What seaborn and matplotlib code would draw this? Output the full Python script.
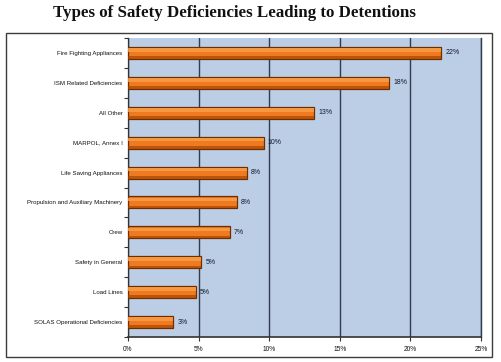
import matplotlib
matplotlib.use("Agg")
import matplotlib.pyplot as plt
import seaborn as sns
import pandas as pd
import numpy as np
from matplotlib.patches import Rectangle
from matplotlib.ticker import FixedLocator

categories = ["Fire Fighting Appliances", "ISM Related Deficiencies", "All Other",
              "MARPOL, Annex I", "Life Saving Appliances",
              "Propulsion and Auxiliary Machinery", "Crew", "Safety in General",
              "Load Lines", "SOLAS Operational Deficiencies"]
values = [22.2, 18.5, 13.2, 9.6, 8.4, 7.7, 7.2, 5.2, 4.8, 3.2]
value_labels = ["22%", "18%", "13%", "10%", "8%", "8%", "7%", "5%", "5%", "3%"]
x_ticks = [0, 5, 10, 15, 20, 25]
x_tick_labels = ["0%", "5%", "10%", "15%", "20%", "25%"]
title = "Types of Safety Deficiencies Leading to Detentions"

df = pd.DataFrame({"category": categories, "value": values})

sns.set_theme(style="white")
plt.rcParams["font.family"] = ["Liberation Sans", "DejaVu Sans"]

fig = plt.figure(figsize=(5.01, 3.62), dpi=100)
fig.patch.set_facecolor("white")

# outer chart frame
frame = Rectangle((6 / 501, 1 - 357 / 362), 486 / 501, 324 / 362,
                  transform=fig.transFigure, facecolor="white",
                  edgecolor="#3c3c3c", linewidth=1.0, zorder=-5)
fig.patches.append(frame)

fig.text(234 / 501, 1 - 13 / 362, title, ha="center", va="center",
         fontsize=12.2, fontweight="bold", family=["Liberation Serif"],
         color="#111111")

ax = fig.add_axes([128 / 501, 1 - 337 / 362, 353 / 501, 299 / 362])
ax.set_zorder(2)
ax.set_facecolor("#bccde6")

sns.barplot(data=df, x="value", y="category", ax=ax, color="#ef7a1f",
            edgecolor="#6e2e00", linewidth=0.9, width=0.4, saturation=1,
            orient="h", zorder=3)

# highlight / shadow on bars to mimic 3D look
for p in list(ax.patches):
    x0, y0 = p.get_x(), p.get_y()
    w, h = p.get_width(), p.get_height()
    ax.add_patch(Rectangle((x0, y0 + h * 0.1), w, h * 0.3, facecolor="#f9a04a",
                           edgecolor="none", zorder=4, alpha=0.8))
    ax.add_patch(Rectangle((x0, y0 + h * 0.78), w, h * 0.22, facecolor="#a84500",
                           edgecolor="none", zorder=4, alpha=0.7))

for i, (v, lab) in enumerate(zip(values, value_labels)):
    ax.text(v + 0.3, i, lab, va="center", ha="left", fontsize=5,
            color="#111a2a", zorder=5)

ax.set_xlim(0, 25)
ax.set_ylim(9.5, -0.5)
ax.set_xticks(x_ticks)
ax.set_xticklabels(x_tick_labels, fontsize=4.8, color="#111111")
ax.tick_params(axis="y", labelsize=4.4, length=0, pad=4, colors="#111111")
ax.tick_params(axis="x", length=3, width=0.8, color="#333333", pad=3.5,
               bottom=True, direction="out")
ax.yaxis.set_minor_locator(FixedLocator(np.arange(-0.5, 10, 1.0)))
ax.tick_params(axis="y", which="minor", length=3, width=0.8,
               color="#333333", left=True, direction="out")
ax.set_xlabel("")
ax.set_ylabel("")

ax.grid(axis="x", color="#2f3d4f", linewidth=1.0, zorder=1)
ax.set_axisbelow(True)
ax.spines["top"].set_visible(False)
ax.spines["right"].set_color("#2f3d4f")
ax.spines["right"].set_linewidth(1.0)
ax.spines["left"].set_color("#333333")
ax.spines["left"].set_linewidth(0.9)
ax.spines["bottom"].set_color("#333333")
ax.spines["bottom"].set_linewidth(1.2)

fig.savefig("out.png", dpi=100)
